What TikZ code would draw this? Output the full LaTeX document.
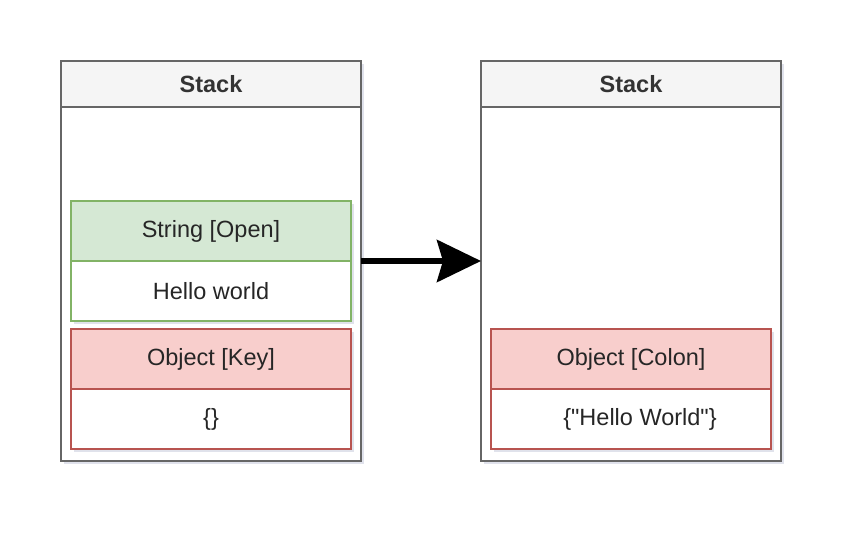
\documentclass[tikz,border=0pt]{standalone}
\usepackage{fontspec}
\setmainfont{Liberation Sans}
\usepackage{xcolor}
\usepackage{tikz}
\usetikzlibrary{
    positioning,     % For relative node placement
    arrows.meta,     % For the big arrow tip
    shadows          % For the soft drop shadows
}
\definecolor{stackline}{HTML}{666666}
\definecolor{headfill}{HTML}{F5F5F5}
\definecolor{headtext}{HTML}{333333}
\definecolor{str_fill}{HTML}{D5E8D4}
\definecolor{str_line}{HTML}{82B366}
\definecolor{obj_fill}{HTML}{F8CECC}
\definecolor{obj_line}{HTML}{B85450}
\definecolor{shadowcol}{HTML}{9AA0C0}

\begin{document}
\begin{tikzpicture}[x=1pt, y=-1pt]

    % --- Style Definitions ---
    \tikzset{
        % soft shadow used by all the boxes
        softshadow/.style={
            drop shadow={shadow xshift=3pt, shadow yshift=-3pt,
                         fill=shadowcol, opacity=0.3}
        },
        % the outer stack frame
        stackbox/.style={
            rectangle,
            draw=stackline,
            line width=1.5pt,
            fill=white,
            softshadow,
            minimum width=300pt,
            minimum height=400pt,
            inner sep=0pt,
            outer sep=0pt
        },
        % the grey title bar of a stack
        stackhead/.style={
            rectangle,
            draw=stackline,
            line width=1.5pt,
            fill=headfill,
            minimum width=300pt,
            minimum height=46pt,
            inner sep=0pt,
            outer sep=0pt,
            font=\fontsize{23.5}{28}\selectfont\bfseries,
            text=headtext
        },
        % a coloured frame header inside a stack
        framehead/.style={
            rectangle,
            line width=1.5pt,
            softshadow,
            minimum width=280pt,
            minimum height=60pt,
            inner sep=0pt,
            outer sep=0pt,
            font=\fontsize{23.5}{28}\selectfont,
            text=black!85
        },
        % the white body below a frame header
        framebody/.style={
            framehead,
            fill=white
        },
        % the big transition arrow
        bigarrow/.style={
            -{Stealth[length=44pt, width=42pt, inset=6pt]},
            line width=6pt,
            black
        }
    }

    \useasboundingbox (0,0) rectangle (854,534);

    % --- Left stack ---
    \node[stackbox, anchor=north west] (lstack) at (61,61) {};
    \node[stackhead, anchor=north] (lhead) at (lstack.north) {Stack};

    \node[framehead, fill=str_fill, draw=str_line,
          below=94pt of lhead] (strhead) {String [Open]};
    \node[framebody, draw=str_line,
          below=0pt of strhead] (strbody) {Hello world};

    \node[framehead, fill=obj_fill, draw=obj_line,
          below=8pt of strbody] (keyhead) {Object [Key]};
    \node[framebody, draw=obj_line,
          below=0pt of keyhead] (keybody) {\{\}};

    % --- Right stack ---
    \node[stackbox, right=120pt of lstack] (rstack) {};
    \node[stackhead, anchor=north] (rhead) at (rstack.north) {Stack};

    \node[framehead, fill=obj_fill, draw=obj_line,
          below=222pt of rhead] (colonhead) {Object [Colon]};
    \node[framebody, draw=obj_line,
          below=0pt of colonhead] (colonbody)
          {\hspace*{18pt}\{\textquotedbl Hello World\textquotedbl\}};

    % --- Transition ---
    \draw[bigarrow] (lstack.east) -- (rstack.west);

\end{tikzpicture}
\end{document}
